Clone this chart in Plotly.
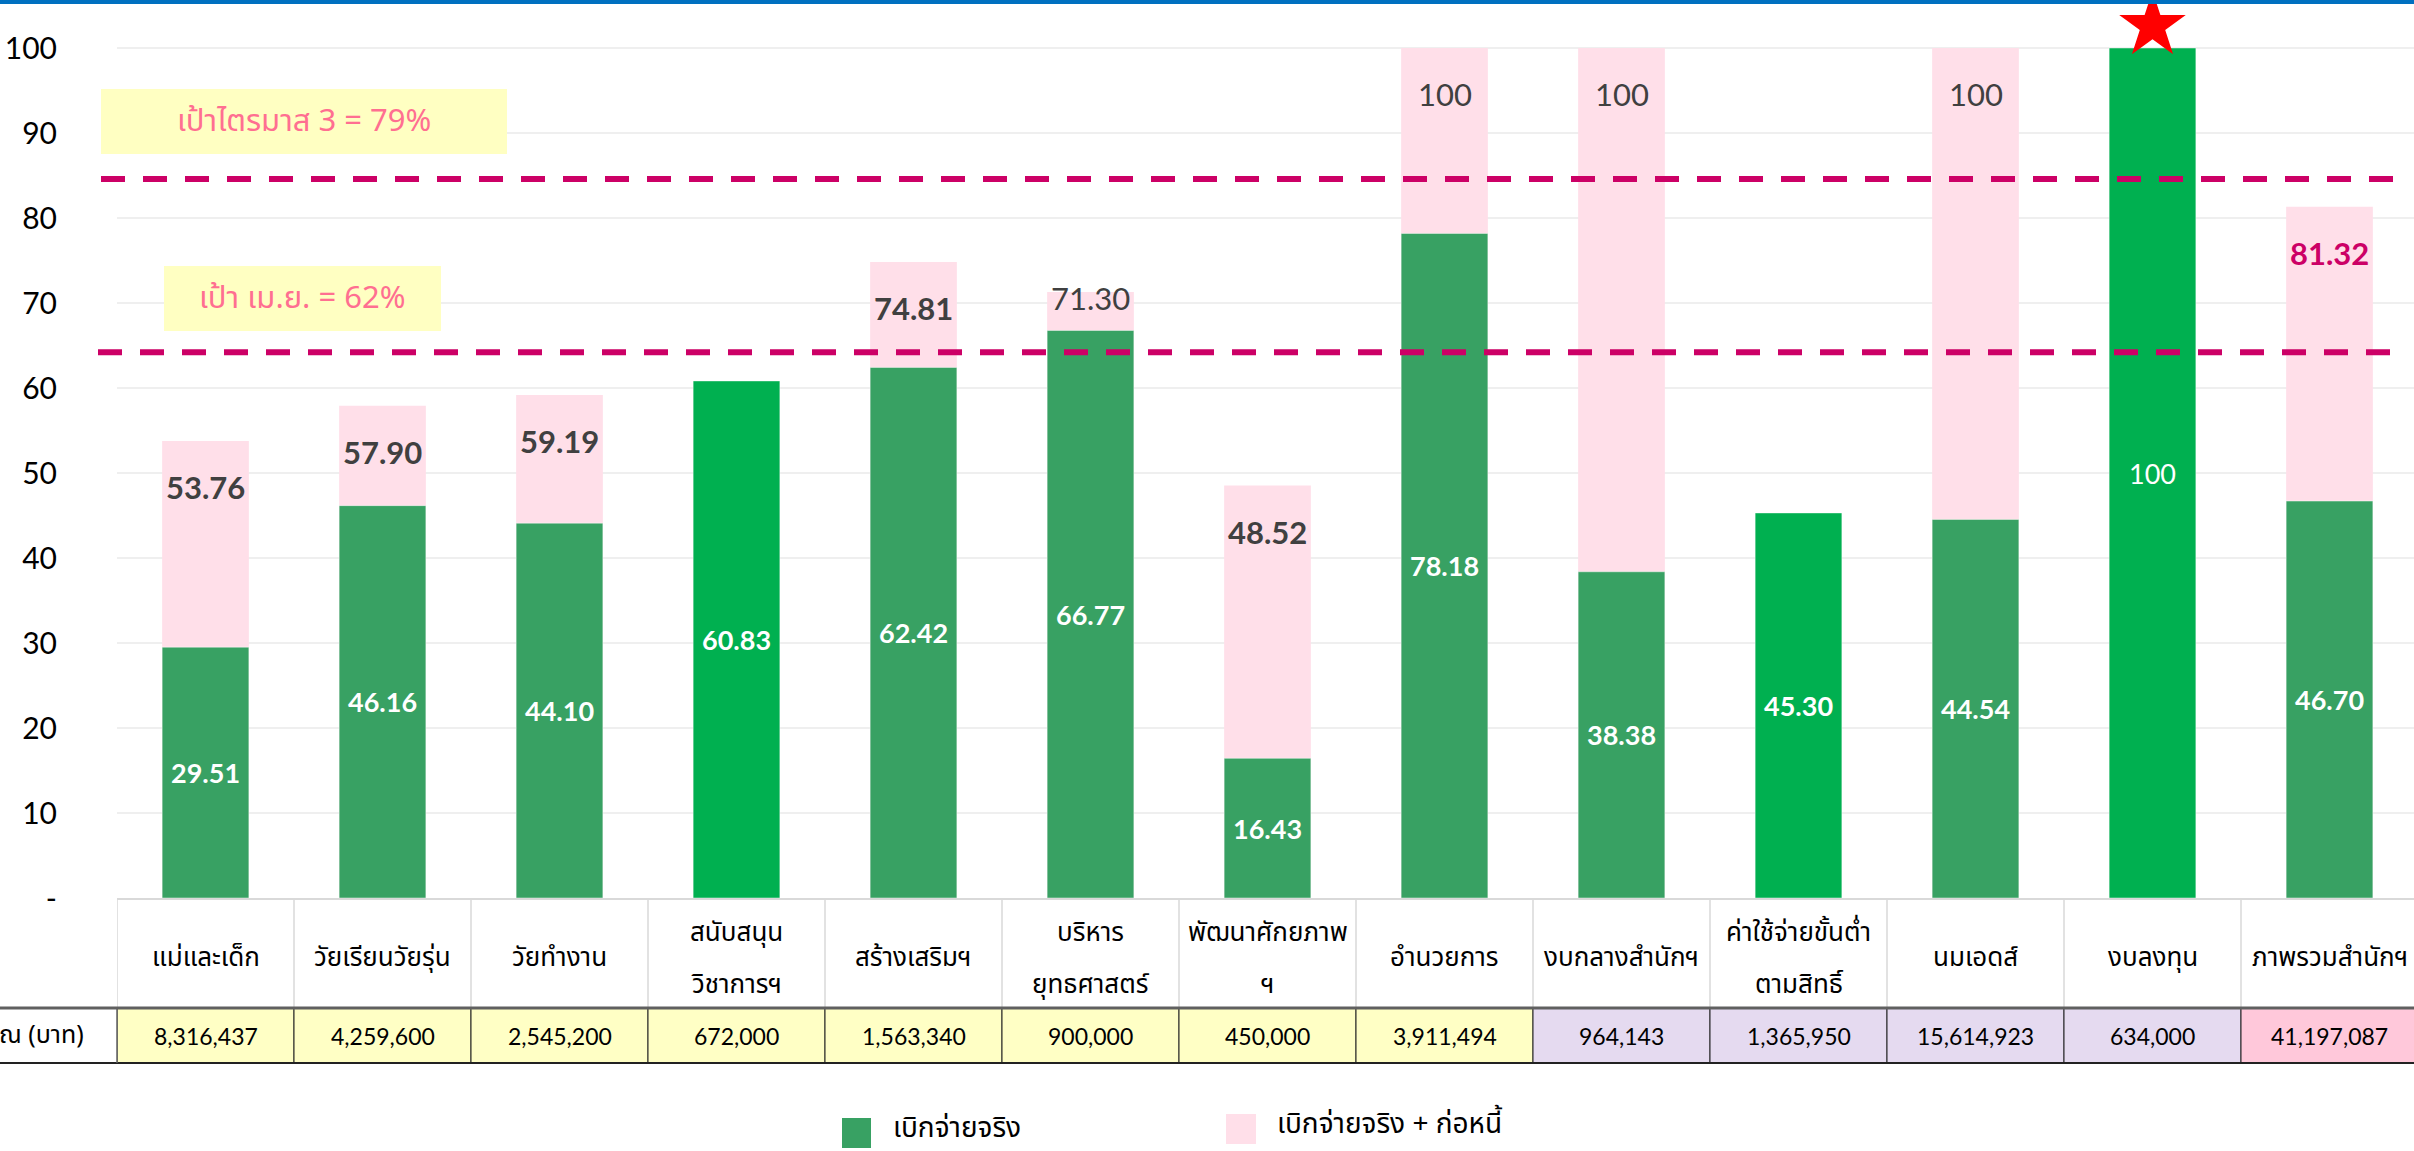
import plotly.graph_objects as go

# ---------------- data ----------------
categories = [
    "แม่และเด็ก", "วัยเรียนวัยรุ่น", "วัยทำงาน", "สนับสนุน\nวิชาการฯ", "สร้างเสริมฯ",
    "บริหาร\nยุทธศาสตร์", "พัฒนาศักยภาพ\nฯ", "อำนวยการ", "งบกลางสำนักฯ",
    "ค่าใช้จ่ายขั้นต่ำ\nตามสิทธิ์", "นมเอดส์", "งบลงทุน", "ภาพรวมสำนักฯ",
]
actual = [29.51, 46.16, 44.10, 60.83, 62.42, 66.77, 16.43, 78.18, 38.38, 45.30, 44.54, 100, 46.70]
committed = [53.76, 57.90, 59.19, None, 74.81, 71.30, 48.52, 100, 100, None, 100, None, 81.32]
budget = ["8,316,437", "4,259,600", "2,545,200", "672,000", "1,563,340", "900,000", "450,000",
          "3,911,494", "964,143", "1,365,950", "15,614,923", "634,000", "41,197,087"]
budget_group = ["a", "a", "a", "a", "a", "a", "a", "a", "b", "b", "b", "b", "c"]
bright_cats = ["สนับสนุนวิชาการฯ", "ค่าใช้จ่ายขั้นต่ำตามสิทธิ์", "งบลงทุน"]
target_lines = [84.6, 64.2]
target_texts = ["เป้าไตรมาส 3 = 79%", "เป้า เม.ย. = 62%"]
yticks = [0, 10, 20, 30, 40, 50, 60, 70, 80, 90, 100]
yticktext = ["-", "10", "20", "30", "40", "50", "60", "70", "80", "90", "100"]
budget_label = "ณ (บาท)"
legend_names = ["เบิกจ่ายจริง", "เบิกจ่ายจริง + ก่อหนี้"]

# ---------------- style ----------------
W, H = 2414, 1151
L, R, T, B = 117, 0, 0, 253
PW = W - L - R
PH = H - T - B            # 898 px, value 0 at pixel row 898
Y0PX = T + PH
PX_PER_UNIT = 8.5          # 100 at row 48
YMAX = PH / PX_PER_UNIT

GREEN = "#38A163"
BRIGHT = "#00B050"
PINK = "#FFDFE9"
MAG = "#CC0066"
THAI = "Noto Sans Thai, Noto Sans Thai Looped, Noto Sans, Lato, sans-serif"
NUM = "Lato, Noto Sans, sans-serif"
cell_colors = {"a": "#FFFFC5", "b": "#E5DAF0", "c": "#FFC8DA"}


def pyp(p):
    return (Y0PX - p) / PH


def pxp(p):
    return (p - L) / PW


keys = [c.replace("\n", "") for c in categories]
n = len(keys)

fig = go.Figure()
fig.add_trace(go.Bar(x=keys, y=committed, width=0.49, marker=dict(color=PINK, line=dict(width=0)),
                     name=legend_names[1], showlegend=False, hoverinfo="x+y"))
fig.add_trace(go.Bar(x=keys, y=actual, width=0.49,
                     marker=dict(color=[BRIGHT if k in bright_cats else GREEN for k in keys],
                                 line=dict(width=1, color="rgba(255,255,255,0.45)")),
                     name=legend_names[0], showlegend=False, hoverinfo="x+y"))

# star above the 100% bar
star_idx = [i for i, v in enumerate(actual) if v >= 100]
fig.add_trace(go.Scatter(x=[keys[i] for i in star_idx], y=[actual[i] + 2.6 for i in star_idx],
                         mode="markers", marker=dict(symbol="star", size=50, color="#FF0000", line=dict(width=0)),
                         cliponaxis=False, showlegend=False, hoverinfo="skip"))

ann = []
shapes = []

# value labels
for i, k in enumerate(keys):
    v = actual[i]
    ann.append(dict(x=k, y=v / 2, xref="x", yref="y", showarrow=False, xanchor="center", yanchor="middle",
                    text="100" if v >= 100 else f"{v:.2f}",
                    font=dict(family=NUM, size=27, color="white", weight="bold" if v < 100 else "normal")))
    c = committed[i]
    if c is not None:
        gap = (c - v) * PX_PER_UNIT
        shift = -46 if gap > 60 else -6
        regular = c >= 100 or gap <= 60
        ann.append(dict(x=k, y=c, xref="x", yref="y", showarrow=False, xanchor="center", yanchor="middle",
                        yshift=shift, text="100" if c >= 100 else f"{c:.2f}",
                        font=dict(family=NUM, size=31, color=MAG if i == n - 1 else "#404040",
                                  weight="normal" if regular else "bold")))

# target dashed lines
line_ext = [(101, 2393), (98, 2390)]
for t, (x0, x1) in zip(target_lines, line_ext):
    shapes.append(dict(type="line", xref="paper", yref="y", x0=pxp(x0), x1=pxp(x1), y0=t, y1=t,
                       line=dict(color=MAG, width=6, dash="24px,18px"), layer="above"))

# target text boxes
boxes = [(101, 507, 89, 154), (164, 441, 266, 331)]
for (bx0, bx1, by0, by1), txt in zip(boxes, target_texts):
    shapes.append(dict(type="rect", xref="paper", yref="paper", x0=pxp(bx0), x1=pxp(bx1),
                       y0=pyp(by1), y1=pyp(by0), fillcolor="#FFFFC2", line=dict(width=0), layer="above"))
    ann.append(dict(x=pxp((bx0 + bx1) / 2), y=pyp((by0 + by1) / 2), xref="paper", yref="paper",
                    xanchor="center", yanchor="middle",
                    text=txt, showarrow=False, font=dict(family=THAI, size=31, color="#FF6F91")))

# blue top strip
shapes.append(dict(type="rect", xref="paper", yref="paper", x0=pxp(0), x1=1.0, y0=pyp(4), y1=pyp(0),
                   fillcolor="#0070C0", line=dict(width=0), layer="above"))

# ---- table ----
HDR_TOP, HDR_BOT, ROW_BOT = 899, 1008, 1063
for b in range(n + 1):
    shapes.append(dict(type="line", xref="x", yref="paper", x0=b - 0.5, x1=b - 0.5,
                       y0=pyp(HDR_BOT), y1=pyp(HDR_TOP), line=dict(color="#D9D9D9", width=1.5)))
for i, k in enumerate(keys):
    shapes.append(dict(type="rect", xref="x", yref="paper", x0=i - 0.5, x1=i + 0.5,
                       y0=pyp(ROW_BOT), y1=pyp(HDR_BOT), fillcolor=cell_colors[budget_group[i]],
                       line=dict(color="#222222", width=1)))
    lines = categories[i].split("\n")
    ys = [958] if len(lines) == 1 else [933, 985]
    for ln, yy in zip(lines, ys):
        ann.append(dict(x=k, y=pyp(yy), xref="x", yref="paper", text=ln, showarrow=False,
                        xanchor="center", yanchor="middle",
                        font=dict(family=THAI, size=26, color="black")))
    ann.append(dict(x=k, y=pyp(1036), xref="x", yref="paper", text=budget[i], showarrow=False,
                    xanchor="center", yanchor="middle",
                    font=dict(family=NUM, size=23, color="black")))
shapes.append(dict(type="line", xref="paper", yref="paper", x0=pxp(0), x1=1.0, y0=pyp(HDR_BOT), y1=pyp(HDR_BOT),
                   line=dict(color="#606060", width=3)))
shapes.append(dict(type="line", xref="paper", yref="paper", x0=pxp(0), x1=1.0, y0=pyp(ROW_BOT), y1=pyp(ROW_BOT),
                   line=dict(color="#222222", width=2)))
shapes.append(dict(type="line", xref="paper", yref="paper", x0=0, x1=0, y0=pyp(ROW_BOT), y1=pyp(HDR_BOT),
                   line=dict(color="#606060", width=1.5)))
ann.append(dict(x=pxp(86), y=pyp(1035), xref="paper", yref="paper", xanchor="right", yanchor="middle",
                text=budget_label, showarrow=False, font=dict(family=THAI, size=25, color="black")))

# ---- legend ----
leg = [(842, 871, 1118, 1148, GREEN, 891, 1128), (1226, 1256, 1114, 1144, PINK, 1275, 1124)]
for (lx0, lx1, ly0, ly1, col, tx, ty), name in zip(leg, legend_names):
    shapes.append(dict(type="rect", xref="paper", yref="paper", x0=pxp(lx0), x1=pxp(lx1),
                       y0=pyp(ly1), y1=pyp(ly0), fillcolor=col, line=dict(width=0)))
    ann.append(dict(x=pxp(tx), y=pyp(ty), xref="paper", yref="paper", xanchor="left", yanchor="middle",
                    text=name, showarrow=False, font=dict(family=THAI, size=28, color="black")))

fig.update_layout(
    width=W, height=H, margin=dict(l=L, r=R, t=T, b=B),
    paper_bgcolor="white", plot_bgcolor="white",
    barmode="overlay", showlegend=False,
    shapes=shapes, annotations=ann,
    xaxis=dict(type="category", range=[-0.5, -0.5 + PW / 177.0], showgrid=False, showticklabels=False,
               showline=True, linecolor="#D9D9D9", linewidth=2, zeroline=False, fixedrange=True),
    yaxis=dict(range=[0, YMAX], tickvals=yticks, ticktext=yticktext, showgrid=True, gridcolor="#EFEFEF",
               gridwidth=1.5, zeroline=False, showline=False, ticklabelstandoff=59,
               tickfont=dict(family=NUM, size=30, color="black"), fixedrange=True),
)

fig.write_html("out.html", config={"displayModeBar": False},
               post_script="document.body.style.margin='0px';document.body.style.overflow='hidden';")
